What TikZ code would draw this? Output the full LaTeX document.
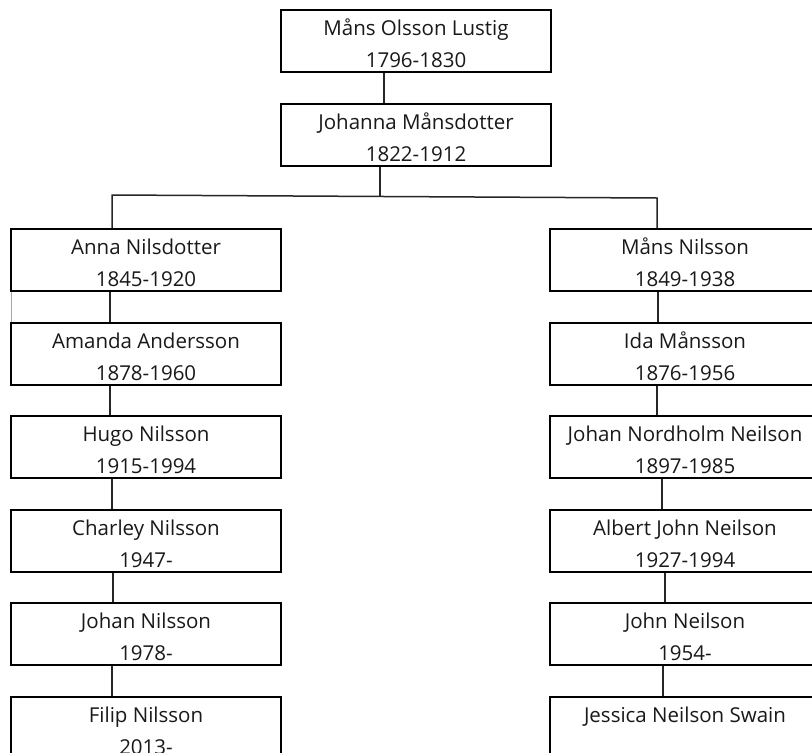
\documentclass[tikz,border=0pt]{standalone}
\usepackage{fontspec}
\setmainfont{Open Sans}
\usetikzlibrary{positioning}
\tikzset{
  pbox/.style={draw=black, line width=2pt, minimum width=270pt, minimum height=62pt, inner sep=0pt, fill=white},
  ptxt/.style={anchor=base, inner sep=0pt, text=black!90, font=\fontsize{20.5}{24}\selectfont},
  conn/.style={draw=black!85, line width=1.5pt},
  faint/.style={draw=black!35, line width=0.6pt}
}
\newcommand\personbox[5]{%
  \node[pbox] (#1) at (#2,#3+31) {};
  \node[ptxt] (#1-n) at (#2,#3+25) {#4};
  \node[ptxt] (#1-y) at (#2,#3+57) {#5};
}
\begin{document}
\begin{tikzpicture}[x=1pt,y=-1pt]
\useasboundingbox[fill=white] (0,0) rectangle (812,753);
% faint artifact line
\draw[faint] (11,291) -- (11,323);
% connectors
\coordinate (bm) at (380,196.5);
\coordinate (bl) at (112,195);
\coordinate (br) at (657,198);
% top
\personbox{mans}{416}{10}{Måns Olsson Lustig}{1796-1830}
\personbox{johanna}{416}{104}{Johanna Månsdotter}{1822-1912}
% left column
\personbox{anna}{146}{229}{Anna Nilsdotter}{1845-1920}
\personbox{amanda}{146}{323}{Amanda Andersson}{1878-1960}
\personbox{hugo}{146}{416}{Hugo Nilsson}{1915-1994}
\personbox{charley}{146}{510}{Charley Nilsson}{1947-}
\personbox{johan}{146}{603}{Johan Nilsson}{1978-}
\personbox{filip}{146}{697}{Filip Nilsson}{2013-}
% right column
\personbox{mansn}{685}{229}{Måns Nilsson}{1849-1938}
\personbox{ida}{685}{323}{Ida Månsson}{1876-1956}
\personbox{johann}{685}{416}{Johan Nordholm Neilson}{1897-1985}
\personbox{albert}{685}{510}{Albert John Neilson}{1927-1994}
\personbox{john}{685}{603}{John Neilson}{1954-}
\personbox{jessica}{685}{697}{Jessica Neilson Swain}{}
% edges
\draw[conn] ([xshift=-32pt]mans.south) -- ([xshift=-32pt]johanna.north);
\draw[conn] ([xshift=-36pt]johanna.south) -- (bm);
\draw[conn] ([xshift=-34pt]anna.north) -- (bl) -- (br) -- ([xshift=-28pt]mansn.north);
\draw[conn] ([xshift=-36pt]anna.south) -- ([xshift=-36pt]amanda.north);
\draw[conn] ([xshift=-36pt]amanda.south) -- ([xshift=-36pt]hugo.north);
\draw[conn] ([xshift=-34pt]hugo.south) -- ([xshift=-34pt]charley.north);
\draw[conn] ([xshift=-33pt]charley.south) -- ([xshift=-33pt]johan.north);
\draw[conn] ([xshift=-34pt]johan.south) -- ([xshift=-34pt]filip.north);
\draw[conn] ([xshift=-27pt]mansn.south) -- ([xshift=-27pt]ida.north);
\draw[conn] ([xshift=-28pt]ida.south) -- ([xshift=-28pt]johann.north);
\draw[conn] ([xshift=-23pt]johann.south) -- ([xshift=-23pt]albert.north);
\draw[conn] ([xshift=-20pt]albert.south) -- ([xshift=-20pt]john.north);
\draw[conn] ([xshift=-22pt]john.south) -- ([xshift=-22pt]jessica.north);
\end{tikzpicture}
\end{document}
